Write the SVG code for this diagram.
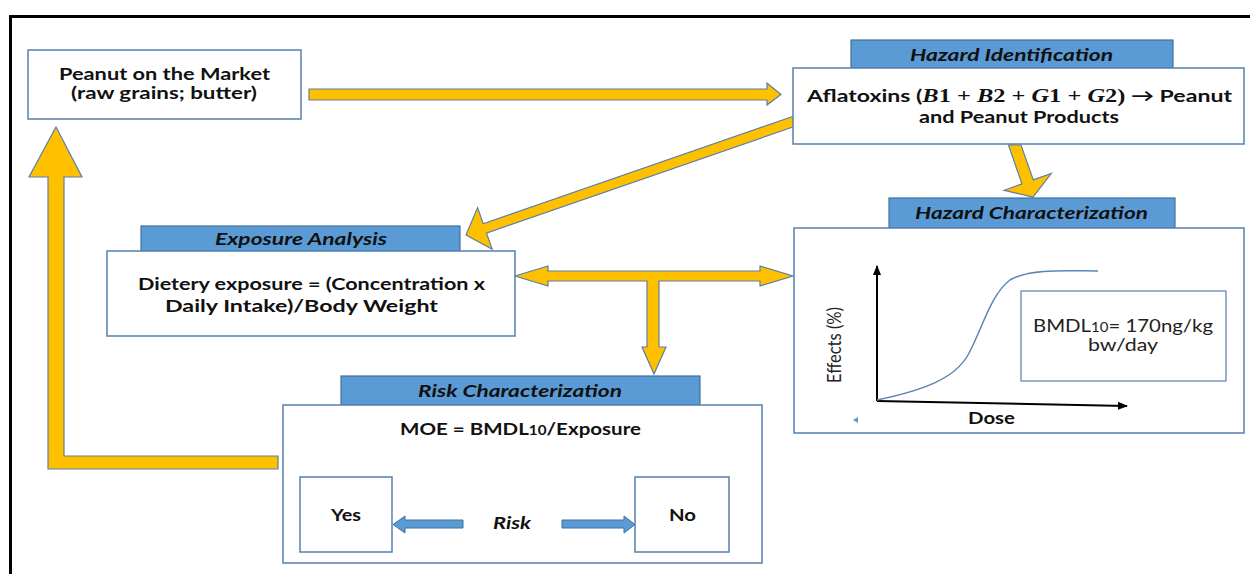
<svg xmlns="http://www.w3.org/2000/svg" width="1250" height="574" viewBox="0 0 1250 574">
<defs>
<style>
.box{fill:#fff;stroke:#5580B0;stroke-width:1.5}
.hdr{fill:#5B9BD5;stroke:#41719C;stroke-width:1.2}
.arr{fill:#FFC000;stroke:#5A7FA6;stroke-width:1.2;stroke-linejoin:miter}
.barr{fill:#5B9BD5;stroke:#41719C;stroke-width:1}
.t{font-family:Lato,"Liberation Sans",sans-serif;font-weight:bold;font-size:17.5px;fill:#111;text-anchor:middle}
.h{font-family:Lato,"Liberation Sans",sans-serif;font-weight:bold;font-style:italic;font-size:17px;fill:#111;text-anchor:middle}
.n{font-family:Lato,"Liberation Sans",sans-serif;font-size:17px;fill:#222;text-anchor:middle}
.m{font-family:"Liberation Serif",serif;font-weight:bold;font-size:18.5px}
.mi{font-family:"Liberation Serif",serif;font-weight:bold;font-style:italic;font-size:18.5px}
.ax{stroke:#000;stroke-width:2;fill:none}
</style>
<marker id="ah" viewBox="0 0 10 10" refX="9" refY="5" markerWidth="5" markerHeight="5" orient="auto" markerUnits="strokeWidth">
<path d="M0,1 L10,5 L0,9 z" fill="#000"/>
</marker>
</defs>
<rect width="1250" height="574" fill="#fff"/>
<g id="frame">
<line x1="9" y1="16.5" x2="1250" y2="16.5" stroke="#000" stroke-width="3"/>
<line x1="10.5" y1="15" x2="10.5" y2="574" stroke="#000" stroke-width="3"/>
</g>
<g id="connectors">
<polygon class="arr" points="309,89 767,89 767,83 781,94.5 767,105 767,100 309,100"/>
<polygon class="arr" points="793.4,116.3 483.2,223.7 477.6,207.6 466,235 492.2,249.2 486.5,233.1 796.7,125.7"/>
<polygon class="arr" points="1008.5,145 1021.9,183.9 1004.1,190.3 1033,197 1051.2,173.5 1033.3,179.9 1021,145"/>
<polygon class="arr" points="515,276 548,266 548,271 760,271 760,266 793,276 760,286 760,281 659,281 659,347 666,347 654,374 642,347 647,347 647,281 548,281 548,286"/>
<polygon class="arr" points="278,456 64,456 64,177 82,177 56,127 29,177 48,177 48,469 278,469"/>
</g>
<g id="peanut-market">
<rect class="box" x="28" y="50" width="273" height="69"/>
<text class="t" x="164.5" y="79.5" textLength="211" lengthAdjust="spacingAndGlyphs">Peanut on the Market</text>
<text class="t" x="164" y="98.5" textLength="186" lengthAdjust="spacingAndGlyphs">(raw grains; butter)</text>
</g>
<g id="hazard-identification">
<rect class="hdr" x="851" y="40" width="322" height="28"/>
<text class="h" x="1011.5" y="61" textLength="203" lengthAdjust="spacingAndGlyphs">Hazard Identification</text>
<rect class="box" x="793" y="68" width="451" height="76"/>
<text class="t" x="1019.5" y="102" textLength="425" lengthAdjust="spacingAndGlyphs">Aflatoxins (<tspan class="mi">B</tspan><tspan class="m">1 + </tspan><tspan class="mi">B</tspan><tspan class="m">2 + </tspan><tspan class="mi">G</tspan><tspan class="m">1 + </tspan><tspan class="mi">G</tspan><tspan class="m">2)</tspan> → Peanut</text>
<text class="t" x="1019" y="123" textLength="200" lengthAdjust="spacingAndGlyphs">and Peanut Products</text>
</g>
<g id="hazard-characterization">
<rect class="hdr" x="889" y="198" width="286" height="30"/>
<text class="h" x="1031.5" y="219" textLength="233" lengthAdjust="spacingAndGlyphs">Hazard Characterization</text>
<rect class="box" x="794" y="228" width="450" height="205"/>
<line class="ax" x1="877" y1="401" x2="877" y2="266" marker-end="url(#ah)"/>
<line class="ax" x1="877" y1="401" x2="1127" y2="406" marker-end="url(#ah)"/>
<path d="M877,400 C925,390 955,378 968,355 C982,330 990,295 1010,280 C1030,268 1070,271 1098,271" fill="none" stroke="#5B86B8" stroke-width="1.5"/>
<rect x="1021" y="291" width="205" height="90" fill="#fff" stroke="#5580B0" stroke-width="1.2"/>
<text class="n" x="1123" y="332" textLength="180" lengthAdjust="spacingAndGlyphs">BMDL<tspan font-size="12.5">10</tspan>= 170ng/kg</text>
<text class="n" x="1123" y="351" textLength="70" lengthAdjust="spacingAndGlyphs">bw/day</text>
<text class="n" style="font-size:19px" transform="translate(841,345) rotate(-90)" textLength="76" lengthAdjust="spacingAndGlyphs">Effects (%)</text>
<text class="t" x="991.5" y="424" textLength="47" lengthAdjust="spacingAndGlyphs">Dose</text>
<polygon points="853,420 858,417 858,423" fill="#5B9BD5"/>
</g>
<g id="exposure-analysis">
<rect class="hdr" x="141" y="226" width="319" height="25"/>
<text class="h" x="301" y="245" textLength="172" lengthAdjust="spacingAndGlyphs">Exposure Analysis</text>
<rect class="box" x="107" y="251" width="408" height="85"/>
<text class="t" x="311.5" y="289.5" textLength="347" lengthAdjust="spacingAndGlyphs">Dietery exposure = (Concentration x</text>
<text class="t" x="301.5" y="311.5" textLength="273" lengthAdjust="spacingAndGlyphs">Daily Intake)/Body Weight</text>
</g>
<g id="risk-characterization">
<rect class="hdr" x="341" y="376" width="359" height="29"/>
<text class="h" x="520" y="397" textLength="204" lengthAdjust="spacingAndGlyphs">Risk Characterization</text>
<rect class="box" x="283" y="405" width="479" height="158"/>
<text class="t" x="520.5" y="435" textLength="241" lengthAdjust="spacingAndGlyphs">MOE = BMDL<tspan font-size="13">10</tspan>/Exposure</text>
</g>
<g id="yes">
<rect class="box" x="300" y="477" width="92" height="75"/>
<text class="t" x="346" y="521" textLength="30" lengthAdjust="spacingAndGlyphs">Yes</text>
</g>
<g id="no">
<rect class="box" x="635" y="477" width="94" height="75"/>
<text class="t" x="682.5" y="521" textLength="27" lengthAdjust="spacingAndGlyphs">No</text>
</g>
<g id="risk">
<text class="h" x="512" y="529" textLength="38" lengthAdjust="spacingAndGlyphs">Risk</text>
<polygon class="barr" points="463,520 405,520 405,516 393,524.5 405,533 405,528 463,528"/>
<polygon class="barr" points="562,520 624,520 624,516 635,524.5 624,533 624,528 562,528"/>
</g>
</svg>
